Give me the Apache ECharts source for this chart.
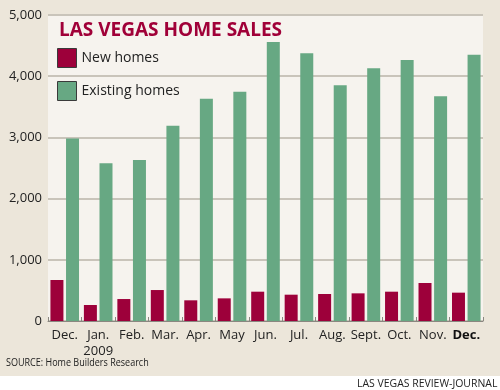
<!DOCTYPE html>
<html>
<head>
<meta charset="utf-8">
<script src="https://cdn.jsdelivr.net/npm/echarts@6/dist/echarts.min.js"></script>
<style>
html,body{margin:0;padding:0;background:#fff;}
#main{width:500px;height:390px;}
</style>
</head>
<body>
<div id="main"></div>
<script>
var categories = ['Dec.', 'Jan.\n2009', 'Feb.', 'Mar.', 'Apr.', 'May', 'Jun.', 'Jul.', 'Aug.', 'Sept.', 'Oct.', 'Nov.', 'Dec.'];
var newHomes = [670, 261, 359, 506, 338, 370, 479, 430, 441, 452, 479, 621, 463];
var existingHomes = [2980, 2577, 2631, 3191, 3633, 3747, 4559, 4374, 3851, 4129, 4265, 3671, 4351];
var yTicks = [0, 1000, 2000, 3000, 4000, 5000];
var seriesNames = ['New homes', 'Existing homes'];
var titleText = 'LAS VEGAS HOME SALES';
var sourceText = 'SOURCE: Home Builders Research';
var creditText = 'LAS VEGAS REVIEW-JOURNAL';

var FONT = '"Open Sans", "Noto Sans", sans-serif';
var chart = echarts.init(document.getElementById('main'), null, {renderer: 'canvas'});
var option = {
  animation: false,
  backgroundColor: '#ece6da',
  textStyle: {fontFamily: FONT},
  title: {
    text: titleText,
    left: 54, top: 16,
    textStyle: {fontFamily: FONT, fontSize: 19, fontWeight: 'bold', color: '#a00038'}
  },
  legend: {
    orient: 'vertical',
    left: 57, top: 48, padding: 0,
    itemWidth: 19, itemHeight: 19, itemGap: 13,
    icon: 'rect',
    itemStyle: {borderColor: '#3a3a3a', borderWidth: 1},
    textStyle: {fontFamily: FONT, fontSize: 14, color: '#222'},
    data: seriesNames
  },
  grid: {
    left: 48, right: 17, top: 15, bottom: 69,
    show: true, backgroundColor: '#f6f3ee', borderWidth: 0
  },
  xAxis: {
    type: 'category',
    data: categories,
    axisLine: {lineStyle: {color: '#8a8780', width: 1}},
    axisTick: {show: true, inside: true, length: 4, lineStyle: {color: '#8a8780'}},
    axisLabel: {
      fontFamily: FONT, fontSize: 13, color: '#222', margin: 6, lineHeight: 16,
      interval: 0,
      formatter: function (v, i) {
        return i === categories.length - 1 ? '{b|' + v + '}' : v;
      },
      rich: {b: {fontFamily: FONT, fontSize: 13, fontWeight: 'bold', color: '#111'}}
    }
  },
  yAxis: {
    type: 'value',
    min: yTicks[0], max: yTicks[yTicks.length - 1], interval: 1000,
    axisLine: {show: false},
    axisTick: {show: false},
    axisLabel: {
      fontFamily: FONT, fontSize: 13, color: '#222', margin: 6,
      formatter: function (v) { return v.toLocaleString('en-US'); }
    },
    splitLine: {lineStyle: {color: '#c9c4ba', width: 2}}
  },
  series: [
    {
      name: seriesNames[0], type: 'bar', data: newHomes,
      barWidth: 13, barGap: '20%',
      itemStyle: {color: '#9d003a'}
    },
    {
      name: seriesNames[1], type: 'bar', data: existingHomes,
      barWidth: 13,
      itemStyle: {color: '#67a883'}
    }
  ],
  graphic: [
    {type: 'rect', left: 0, top: 376, shape: {width: 500, height: 14}, style: {fill: '#ffffff'}, silent: true},
    {type: 'text', x: 6, y: 357, scaleX: 0.82, style: {text: sourceText, fontFamily: FONT, fontSize: 11, fill: '#222'}},
    {type: 'text', x: 357, y: 378, scaleX: 0.95, style: {text: creditText, fontFamily: FONT, fontSize: 11, fill: '#222'}}
  ]
};
chart.setOption(option);
</script>
</body>
</html>
